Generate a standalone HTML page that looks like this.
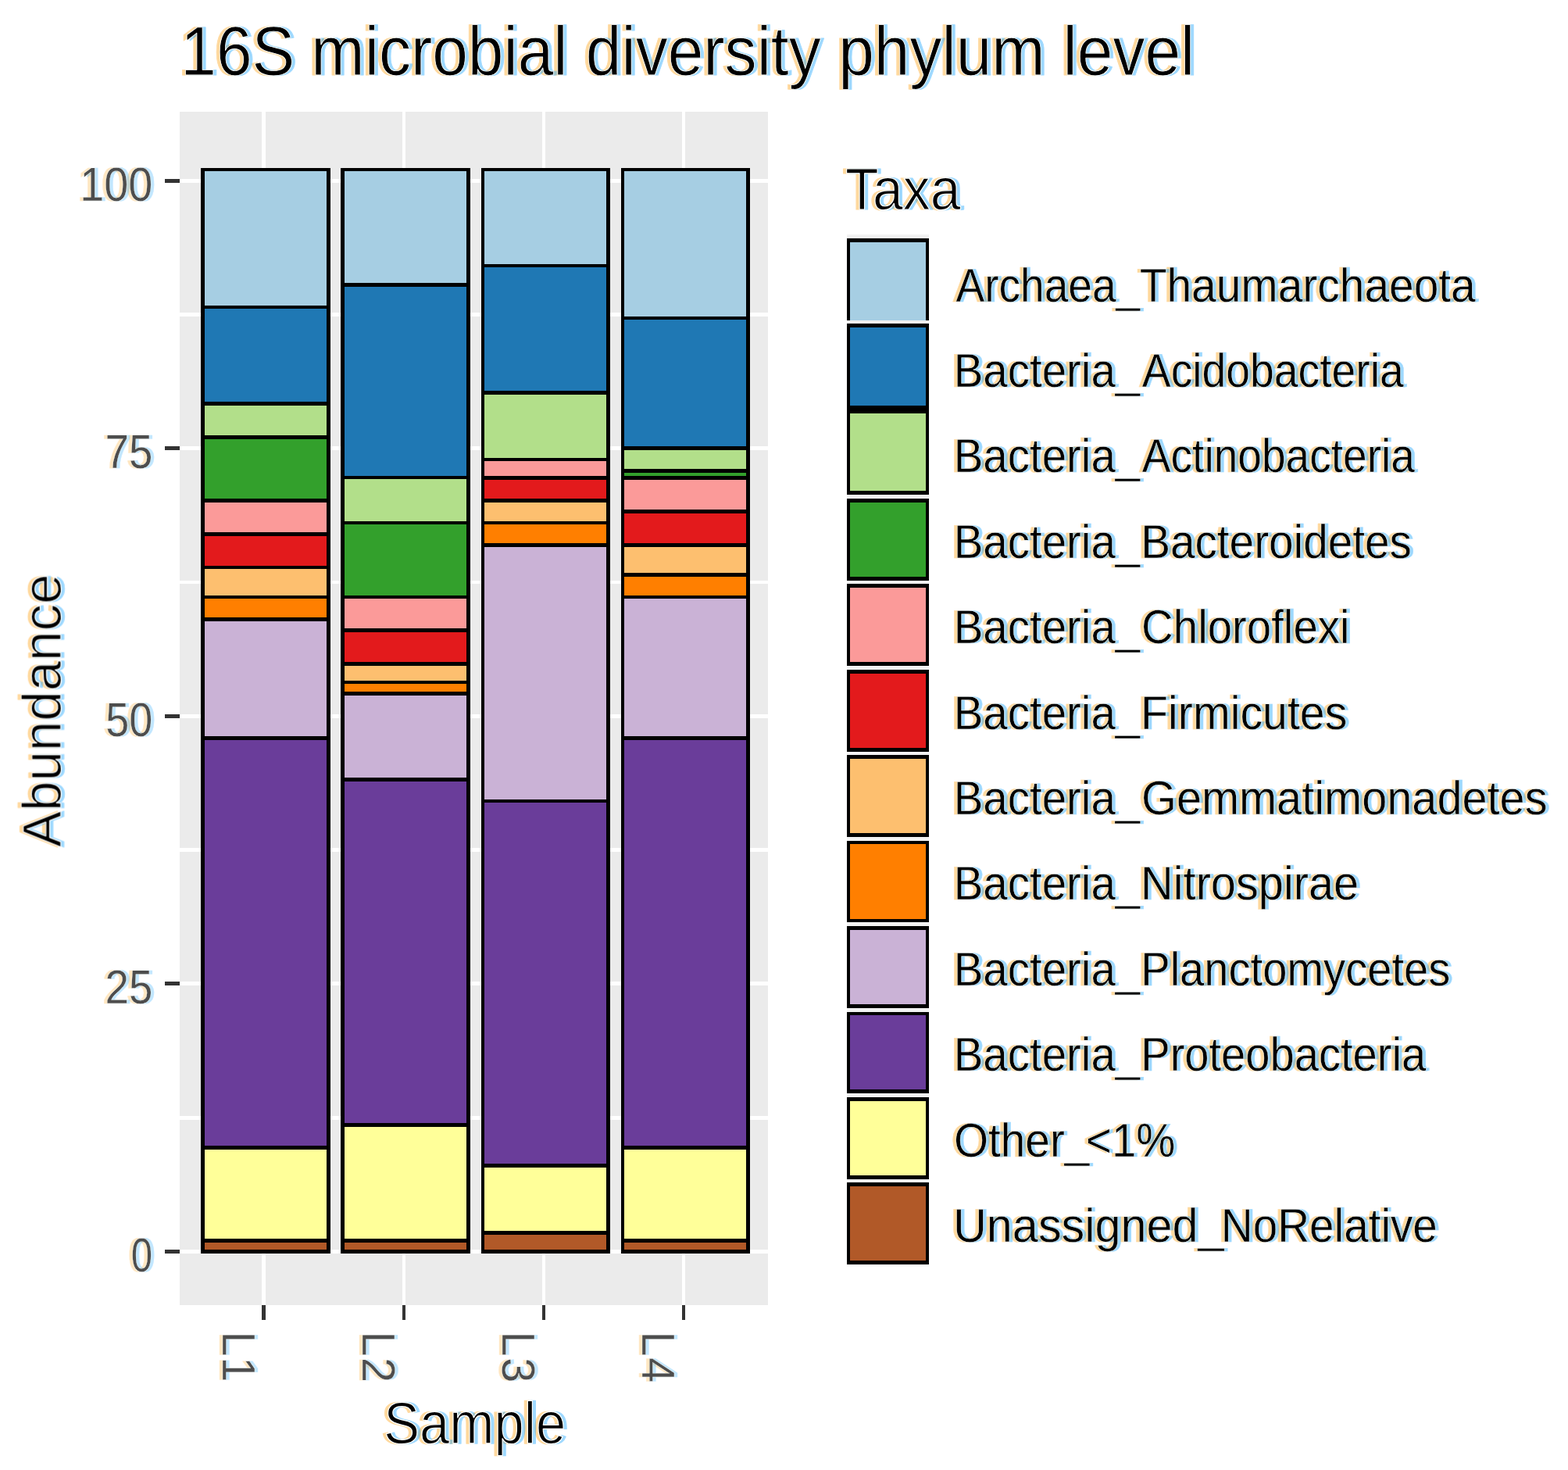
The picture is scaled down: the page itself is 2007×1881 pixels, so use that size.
<!DOCTYPE html>
<html lang="en"><head><meta charset="utf-8"><title>16S microbial diversity phylum level</title>
<style>html,body{margin:0;padding:0;background:#fff;}body{width:2007px;height:1881px;}svg{display:block;}text{font-family:"Liberation Sans",Arial,Helvetica,sans-serif;white-space:pre;}</style>
</head><body>
<svg width="2007" height="1881" viewBox="0 0 2007 1881" shape-rendering="crispEdges">
<rect width="2007" height="1881" fill="#ffffff"/>
<g id="panel">
<rect x="230.00" y="143.00" width="753.00" height="1526.80" fill="#EBEBEB"/>
<rect x="230.00" y="399.90" width="753.00" height="4.80" fill="#FFFFFF"/>
<rect x="230.00" y="742.60" width="753.00" height="4.80" fill="#FFFFFF"/>
<rect x="230.00" y="1085.10" width="753.00" height="4.80" fill="#FFFFFF"/>
<rect x="230.00" y="1428.20" width="753.00" height="4.80" fill="#FFFFFF"/>
<rect x="230.00" y="228.90" width="753.00" height="4.80" fill="#FFFFFF"/>
<rect x="230.00" y="570.90" width="753.00" height="4.80" fill="#FFFFFF"/>
<rect x="230.00" y="914.10" width="753.00" height="4.80" fill="#FFFFFF"/>
<rect x="230.00" y="1256.10" width="753.00" height="4.80" fill="#FFFFFF"/>
<rect x="230.00" y="1599.00" width="753.00" height="4.80" fill="#FFFFFF"/>
<rect x="335.00" y="143.00" width="5.00" height="1526.80" fill="#FFFFFF"/>
<rect x="514.90" y="143.00" width="4.20" height="1526.80" fill="#FFFFFF"/>
<rect x="693.80" y="143.00" width="4.30" height="1526.80" fill="#FFFFFF"/>
<rect x="872.90" y="143.00" width="4.10" height="1526.80" fill="#FFFFFF"/>
</g>
<g id="bars">
<rect x="256.90" y="214.60" width="166.00" height="1389.20" fill="#000000"/>
<rect x="261.80" y="219.40" width="156.30" height="171.49" fill="#A6CEE3"/>
<rect x="261.80" y="395.31" width="156.30" height="118.98" fill="#1F78B4"/>
<rect x="261.80" y="518.71" width="156.30" height="38.58" fill="#B2DF8A"/>
<rect x="261.80" y="561.71" width="156.30" height="76.68" fill="#33A02C"/>
<rect x="261.80" y="642.81" width="156.30" height="38.58" fill="#FB9A99"/>
<rect x="261.80" y="685.81" width="156.30" height="37.88" fill="#E31A1C"/>
<rect x="261.80" y="728.11" width="156.30" height="33.58" fill="#FDBF6F"/>
<rect x="261.80" y="766.11" width="156.30" height="24.08" fill="#FF7F00"/>
<rect x="261.80" y="794.61" width="156.30" height="147.58" fill="#CAB2D6"/>
<rect x="261.80" y="946.61" width="156.30" height="519.68" fill="#6A3D9A"/>
<rect x="261.80" y="1470.71" width="156.30" height="114.78" fill="#FFFF99"/>
<rect x="261.80" y="1589.91" width="156.30" height="9.09" fill="#B15928"/>
<rect x="436.20" y="214.60" width="165.90" height="1389.20" fill="#000000"/>
<rect x="440.90" y="219.40" width="156.30" height="142.99" fill="#A6CEE3"/>
<rect x="440.90" y="366.81" width="156.30" height="242.18" fill="#1F78B4"/>
<rect x="440.90" y="613.41" width="156.30" height="53.38" fill="#B2DF8A"/>
<rect x="440.90" y="671.21" width="156.30" height="90.48" fill="#33A02C"/>
<rect x="440.90" y="766.11" width="156.30" height="38.28" fill="#FB9A99"/>
<rect x="440.90" y="808.81" width="156.30" height="38.28" fill="#E31A1C"/>
<rect x="440.90" y="851.51" width="156.30" height="19.48" fill="#FDBF6F"/>
<rect x="440.90" y="875.41" width="156.30" height="9.88" fill="#FF7F00"/>
<rect x="440.90" y="889.71" width="156.30" height="105.38" fill="#CAB2D6"/>
<rect x="440.90" y="999.51" width="156.30" height="437.88" fill="#6A3D9A"/>
<rect x="440.90" y="1441.81" width="156.30" height="143.68" fill="#FFFF99"/>
<rect x="440.90" y="1589.91" width="156.30" height="9.09" fill="#B15928"/>
<rect x="615.90" y="214.60" width="165.10" height="1389.20" fill="#000000"/>
<rect x="620.00" y="219.40" width="156.10" height="118.39" fill="#A6CEE3"/>
<rect x="620.00" y="342.21" width="156.10" height="157.88" fill="#1F78B4"/>
<rect x="620.00" y="504.51" width="156.10" height="81.28" fill="#B2DF8A"/>
<rect x="620.00" y="590.21" width="156.10" height="18.98" fill="#FB9A99"/>
<rect x="620.00" y="613.61" width="156.10" height="24.78" fill="#E31A1C"/>
<rect x="620.00" y="642.81" width="156.10" height="23.98" fill="#FDBF6F"/>
<rect x="620.00" y="671.21" width="156.10" height="24.08" fill="#FF7F00"/>
<rect x="620.00" y="699.71" width="156.10" height="323.28" fill="#CAB2D6"/>
<rect x="620.00" y="1027.41" width="156.10" height="462.08" fill="#6A3D9A"/>
<rect x="620.00" y="1493.91" width="156.10" height="81.28" fill="#FFFF99"/>
<rect x="620.00" y="1579.61" width="156.10" height="19.39" fill="#B15928"/>
<rect x="795.00" y="214.60" width="165.30" height="1389.20" fill="#000000"/>
<rect x="799.00" y="219.40" width="156.30" height="185.39" fill="#A6CEE3"/>
<rect x="799.00" y="409.21" width="156.30" height="161.98" fill="#1F78B4"/>
<rect x="799.00" y="575.61" width="156.30" height="24.58" fill="#B2DF8A"/>
<rect x="799.00" y="604.61" width="156.30" height="4.58" fill="#33A02C"/>
<rect x="799.00" y="613.61" width="156.30" height="38.78" fill="#FB9A99"/>
<rect x="799.00" y="656.81" width="156.30" height="38.48" fill="#E31A1C"/>
<rect x="799.00" y="699.71" width="156.30" height="33.38" fill="#FDBF6F"/>
<rect x="799.00" y="737.51" width="156.30" height="24.18" fill="#FF7F00"/>
<rect x="799.00" y="766.11" width="156.30" height="176.08" fill="#CAB2D6"/>
<rect x="799.00" y="946.61" width="156.30" height="519.68" fill="#6A3D9A"/>
<rect x="799.00" y="1470.71" width="156.30" height="114.78" fill="#FFFF99"/>
<rect x="799.00" y="1589.91" width="156.30" height="9.09" fill="#B15928"/>
</g>
<g id="ticks">
<rect x="211.20" y="228.90" width="18.80" height="4.80" fill="#333333"/>
<rect x="211.20" y="570.90" width="18.80" height="4.80" fill="#333333"/>
<rect x="211.20" y="914.10" width="18.80" height="4.80" fill="#333333"/>
<rect x="211.20" y="1256.10" width="18.80" height="4.80" fill="#333333"/>
<rect x="211.20" y="1599.00" width="18.80" height="4.80" fill="#333333"/>
<rect x="335.00" y="1669.80" width="5.00" height="18.90" fill="#333333"/>
<rect x="514.90" y="1669.80" width="4.20" height="18.90" fill="#333333"/>
<rect x="693.80" y="1669.80" width="4.30" height="18.90" fill="#333333"/>
<rect x="872.90" y="1669.80" width="4.10" height="18.90" fill="#333333"/>
</g>
<g id="legend-keys">
<rect x="1084.00" y="300.00" width="105.00" height="1318.00" fill="#F2F2F2"/>
<rect x="1084.00" y="305.30" width="105.00" height="104.50" fill="#000000"/>
<rect x="1088.10" y="310.20" width="97.10" height="99.60" fill="#A6CEE3"/>
<rect x="1084.00" y="414.00" width="105.00" height="110.00" fill="#000000"/>
<rect x="1088.10" y="419.10" width="97.10" height="100.00" fill="#1F78B4"/>
<rect x="1084.00" y="524.00" width="105.00" height="109.20" fill="#000000"/>
<rect x="1088.10" y="528.80" width="97.10" height="99.00" fill="#B2DF8A"/>
<rect x="1084.00" y="638.10" width="105.00" height="104.80" fill="#000000"/>
<rect x="1088.10" y="643.10" width="97.10" height="95.00" fill="#33A02C"/>
<rect x="1084.00" y="747.30" width="105.00" height="104.90" fill="#000000"/>
<rect x="1088.10" y="752.20" width="97.10" height="95.10" fill="#FB9A99"/>
<rect x="1084.00" y="857.20" width="105.00" height="104.90" fill="#000000"/>
<rect x="1088.10" y="862.10" width="97.10" height="94.60" fill="#E31A1C"/>
<rect x="1084.00" y="966.30" width="105.00" height="104.40" fill="#000000"/>
<rect x="1088.10" y="971.20" width="97.10" height="94.60" fill="#FDBF6F"/>
<rect x="1084.00" y="1076.20" width="105.00" height="103.70" fill="#000000"/>
<rect x="1088.10" y="1080.10" width="97.10" height="96.10" fill="#FF7F00"/>
<rect x="1084.00" y="1184.80" width="105.00" height="105.40" fill="#000000"/>
<rect x="1088.10" y="1190.20" width="97.10" height="94.60" fill="#CAB2D6"/>
<rect x="1084.00" y="1295.20" width="105.00" height="103.90" fill="#000000"/>
<rect x="1088.10" y="1299.10" width="97.10" height="94.90" fill="#6A3D9A"/>
<rect x="1084.00" y="1404.10" width="105.00" height="104.90" fill="#000000"/>
<rect x="1088.10" y="1409.00" width="97.10" height="94.80" fill="#FFFF99"/>
<rect x="1084.00" y="1513.20" width="105.00" height="104.50" fill="#000000"/>
<rect x="1088.10" y="1518.10" width="97.10" height="95.10" fill="#B15928"/>
</g>
<defs>
<filter id="ctk" filterUnits="userSpaceOnUse" x="0" y="0" width="2007" height="1881" color-interpolation-filters="sRGB"><feOffset in="SourceAlpha" dx="-4.2" dy="0" result="l"/><feFlood flood-color="#FF9A00" flood-opacity="0.38" result="lc"/><feComposite in="lc" in2="l" operator="in" result="left"/><feOffset in="SourceAlpha" dx="4.2" dy="0" result="r"/><feFlood flood-color="#009AFF" flood-opacity="0.38" result="rc"/><feComposite in="rc" in2="r" operator="in" result="right"/><feMerge><feMergeNode in="left"/><feMergeNode in="right"/><feMergeNode in="SourceGraphic"/></feMerge></filter>
<filter id="ctg" filterUnits="userSpaceOnUse" x="0" y="0" width="2007" height="1881" color-interpolation-filters="sRGB"><feOffset in="SourceAlpha" dx="-4.2" dy="0" result="l"/><feFlood flood-color="#FF9A00" flood-opacity="0.24" result="lc"/><feComposite in="lc" in2="l" operator="in" result="left"/><feOffset in="SourceAlpha" dx="4.2" dy="0" result="r"/><feFlood flood-color="#009AFF" flood-opacity="0.24" result="rc"/><feComposite in="rc" in2="r" operator="in" result="right"/><feMerge><feMergeNode in="left"/><feMergeNode in="right"/><feMergeNode in="SourceGraphic"/></feMerge></filter>
</defs>
<g id="labels" shape-rendering="auto" text-rendering="geometricPrecision" filter="url(#ctk)">
<text transform="translate(0,95.5) scale(0.8202,0.8895)" font-size="100" fill="#000" stroke="#ffffff" stroke-width="0.94" stroke-linejoin="round"><tspan x="282.05">16S </tspan><tspan x="485.71">microbial </tspan><tspan x="914.22">diversity </tspan><tspan x="1308.46">phylum </tspan><tspan x="1658.84">level</tspan></text>
</g>
<g id="tick-labels" shape-rendering="auto" text-rendering="geometricPrecision" filter="url(#ctg)">
<text transform="translate(102.16,257.15) scale(0.5582,0.6119)" font-size="100" fill="#4D4D4D" stroke="#ffffff" stroke-width="0.51" stroke-linejoin="round">100</text>
<text transform="translate(134.61,599.15) scale(0.5471,0.6119)" font-size="100" fill="#4D4D4D" stroke="#ffffff" stroke-width="0.52" stroke-linejoin="round">75</text>
<text transform="translate(135.19,942.35) scale(0.5404,0.6119)" font-size="100" fill="#4D4D4D" stroke="#ffffff" stroke-width="0.52" stroke-linejoin="round">50</text>
<text transform="translate(134.61,1284.35) scale(0.5471,0.6119)" font-size="100" fill="#4D4D4D" stroke="#ffffff" stroke-width="0.52" stroke-linejoin="round">25</text>
<text transform="translate(167.71,1627.25) scale(0.4917,0.6119)" font-size="100" fill="#4D4D4D" stroke="#ffffff" stroke-width="0.55" stroke-linejoin="round">0</text>
<text transform="translate(284.50,1700.00) rotate(90) scale(0.5750,0.5959)" font-size="100" fill="#4D4D4D" stroke="#ffffff" stroke-width="0.51" stroke-linejoin="round"><tspan x="6.10">L</tspan><tspan x="63.05">1</tspan></text>
<text transform="translate(464.00,1700.00) rotate(90) scale(0.5750,0.5959)" font-size="100" fill="#4D4D4D" stroke="#ffffff" stroke-width="0.51" stroke-linejoin="round"><tspan x="6.10">L</tspan><tspan x="64.30">2</tspan></text>
<text transform="translate(643.00,1700.00) rotate(90) scale(0.5750,0.5959)" font-size="100" fill="#4D4D4D" stroke="#ffffff" stroke-width="0.51" stroke-linejoin="round"><tspan x="6.10">L</tspan><tspan x="64.67">3</tspan></text>
<text transform="translate(822.00,1700.00) rotate(90) scale(0.5750,0.5959)" font-size="100" fill="#4D4D4D" stroke="#ffffff" stroke-width="0.51" stroke-linejoin="round"><tspan x="6.10">L</tspan><tspan x="64.67">4</tspan></text>
</g>
<g id="titles" shape-rendering="auto" text-rendering="geometricPrecision" filter="url(#ctk)">
<text transform="translate(491.31,1846.50) scale(0.6868,0.7544)" font-size="100" fill="#000" stroke="#ffffff" stroke-width="1.67" stroke-linejoin="round">Sample</text>
<text transform="translate(78.20,1084.10) rotate(-90) scale(0.6910,0.7006)" font-size="100" fill="#000" stroke="#ffffff" stroke-width="1.72" stroke-linejoin="round">Abundance</text>
<text transform="translate(1082.00,267.60) scale(0.6987,0.7558)" font-size="100" fill="#000" stroke="#ffffff" stroke-width="1.65" stroke-linejoin="round">Taxa</text>
<text transform="translate(0,385.70) scale(0.5700,0.6076)" font-size="100" fill="#000" stroke="#ffffff" stroke-width="0.68" stroke-linejoin="round"><tspan x="2146.49" textLength="413.44" lengthAdjust="spacingAndGlyphs">Archaea_</tspan><tspan x="2559.06" textLength="754.58" lengthAdjust="spacingAndGlyphs">Thaumarchaeota</tspan></text>
<text transform="translate(0,495.10) scale(0.5700,0.6076)" font-size="100" fill="#000" stroke="#ffffff" stroke-width="0.68" stroke-linejoin="round"><tspan x="2141.55" textLength="418.49" lengthAdjust="spacingAndGlyphs">Bacteria_</tspan><tspan x="2564.56" textLength="587.47" lengthAdjust="spacingAndGlyphs">Acidobacteria</tspan></text>
<text transform="translate(0,604.50) scale(0.5700,0.6076)" font-size="100" fill="#000" stroke="#ffffff" stroke-width="0.68" stroke-linejoin="round"><tspan x="2141.55" textLength="418.49" lengthAdjust="spacingAndGlyphs">Bacteria_</tspan><tspan x="2564.56" textLength="612.59" lengthAdjust="spacingAndGlyphs">Actinobacteria</tspan></text>
<text transform="translate(0,713.90) scale(0.5700,0.6076)" font-size="100" fill="#000" stroke="#ffffff" stroke-width="0.68" stroke-linejoin="round"><tspan x="2141.55" textLength="418.49" lengthAdjust="spacingAndGlyphs">Bacteria_</tspan><tspan x="2561.69" textLength="608.27" lengthAdjust="spacingAndGlyphs">Bacteroidetes</tspan></text>
<text transform="translate(0,823.30) scale(0.5700,0.6076)" font-size="100" fill="#000" stroke="#ffffff" stroke-width="0.68" stroke-linejoin="round"><tspan x="2141.55" textLength="418.49" lengthAdjust="spacingAndGlyphs">Bacteria_</tspan><tspan x="2563.30" textLength="467.34" lengthAdjust="spacingAndGlyphs">Chloroflexi</tspan></text>
<text transform="translate(0,932.70) scale(0.5700,0.6076)" font-size="100" fill="#000" stroke="#ffffff" stroke-width="0.68" stroke-linejoin="round"><tspan x="2141.55" textLength="418.49" lengthAdjust="spacingAndGlyphs">Bacteria_</tspan><tspan x="2561.61" textLength="463.56" lengthAdjust="spacingAndGlyphs">Firmicutes</tspan></text>
<text transform="translate(0,1042.10) scale(0.5700,0.6076)" font-size="100" fill="#000" stroke="#ffffff" stroke-width="0.68" stroke-linejoin="round"><tspan x="2141.55" textLength="418.49" lengthAdjust="spacingAndGlyphs">Bacteria_</tspan><tspan x="2563.18" textLength="911.50" lengthAdjust="spacingAndGlyphs">Gemmatimonadetes</tspan></text>
<text transform="translate(0,1151.50) scale(0.5700,0.6076)" font-size="100" fill="#000" stroke="#ffffff" stroke-width="0.68" stroke-linejoin="round"><tspan x="2141.55" textLength="418.49" lengthAdjust="spacingAndGlyphs">Bacteria_</tspan><tspan x="2561.55" textLength="489.61" lengthAdjust="spacingAndGlyphs">Nitrospirae</tspan></text>
<text transform="translate(0,1260.90) scale(0.5700,0.6076)" font-size="100" fill="#000" stroke="#ffffff" stroke-width="0.68" stroke-linejoin="round"><tspan x="2141.55" textLength="418.49" lengthAdjust="spacingAndGlyphs">Bacteria_</tspan><tspan x="2561.77" textLength="694.88" lengthAdjust="spacingAndGlyphs">Planctomycetes</tspan></text>
<text transform="translate(0,1370.30) scale(0.5700,0.6076)" font-size="100" fill="#000" stroke="#ffffff" stroke-width="0.68" stroke-linejoin="round"><tspan x="2141.55" textLength="418.49" lengthAdjust="spacingAndGlyphs">Bacteria_</tspan><tspan x="2561.77" textLength="640.24" lengthAdjust="spacingAndGlyphs">Proteobacteria</tspan></text>
<text transform="translate(0,1479.70) scale(0.5700,0.6076)" font-size="100" fill="#000" stroke="#ffffff" stroke-width="0.68" stroke-linejoin="round"><tspan x="2142.01" textLength="304.16" lengthAdjust="spacingAndGlyphs">Other_</tspan><tspan x="2438.82" textLength="200.36" lengthAdjust="spacingAndGlyphs">&lt;1%</tspan></text>
<text transform="translate(0,1589.10) scale(0.5700,0.6076)" font-size="100" fill="#000" stroke="#ffffff" stroke-width="0.68" stroke-linejoin="round"><tspan x="2140.26" textLength="608.28" lengthAdjust="spacingAndGlyphs">Unassigned_</tspan><tspan x="2741.88" textLength="485.80" lengthAdjust="spacingAndGlyphs">NoRelative</tspan></text>
</g>
</svg>
</body></html>
